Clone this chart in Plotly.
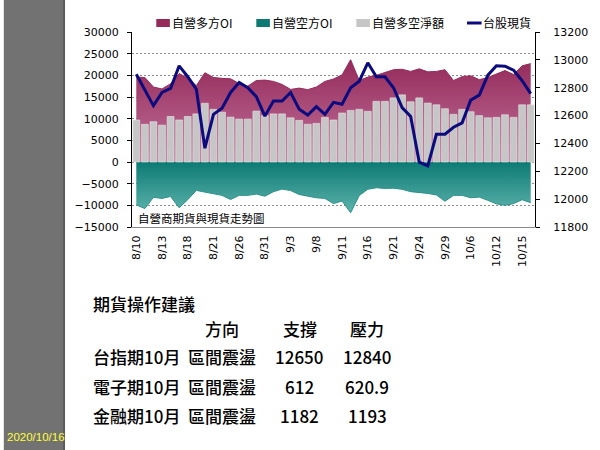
import plotly.graph_objects as go

# ---------------- data ----------------
dates = ["8/10","8/11","8/12","8/13","8/14","8/17","8/18","8/19","8/20","8/21",
         "8/24","8/25","8/26","8/27","8/28","8/31","9/1","9/2","9/3","9/4",
         "9/7","9/8","9/9","9/10","9/11","9/14","9/15","9/16","9/17","9/18",
         "9/21","9/22","9/23","9/24","9/25","9/28","9/29","9/30","10/5","10/6",
         "10/7","10/8","10/12","10/13","10/14","10/15","10/16"]

long_oi = [19600, 19500, 17300, 16850, 18050, 20400, 19400, 17600, 20600, 19500,
           19300, 19200, 18100, 17500, 18800, 18900, 18600, 17900, 16750, 17050,
           16700, 17300, 18600, 19150, 20100, 23600, 18800, 19600, 20000, 20700,
           21300, 21400, 20900, 21500, 20800, 20900, 21300, 18800, 19700, 19900,
           19000, 19500, 20300, 21100, 20200, 22200, 22700]

short_oi = [-9900, -10750, -8150, -8400, -7950, -10550, -8700, -6550, -6950, -7300,
            -7700, -8650, -7700, -7700, -7400, -7900, -6850, -6250, -6600, -7500,
            -7900, -8250, -8400, -9600, -9000, -11700, -7750, -6300, -5950, -6100,
            -6050, -6300, -6850, -7000, -7250, -7600, -9050, -7700, -7700, -8250,
            -8100, -8850, -9650, -10000, -9600, -8700, -9400]

net_oi = [9700, 8700, 9300, 8500, 10500, 9700, 10500, 11100, 13550, 12150,
          11500, 10350, 9900, 9900, 11750, 10700, 11100, 11100, 10200, 9600,
          8700, 8900, 10300, 9700, 11300, 11900, 12150, 11700, 14000, 14000,
          14800, 15500, 13900, 14800, 13600, 13200, 12300, 11000, 12150, 11600,
          10700, 10200, 10300, 10900, 10300, 13200, 13200]

taiex = [12897, 12783, 12671, 12766, 12795, 12957, 12879, 12790, 12366, 12609,
         12652, 12766, 12838, 12800, 12736, 12596, 12704, 12704, 12766, 12645,
         12604, 12664, 12609, 12695, 12681, 12800, 12847, 12979, 12879, 12879,
         12800, 12657, 12593, 12266, 12238, 12466, 12466, 12516, 12548, 12711,
         12747, 12890, 12957, 12955, 12926, 12850, 12758]

tick_labels = dates[::3]

series_names = ["自營多方OI", "自營空方OI", "自營多空淨額", "台股現貨"]
chart_note = "自營商期貨與現貨走勢圖"
table_title = "期貨操作建議"
table_header = ["方向", "支撐", "壓力"]
table_rows = ["台指期10月", "電子期10月", "金融期10月"]
table_dir = ["區間震盪", "區間震盪", "區間震盪"]
table_support = ["12650", "612", "1182"]
table_resist = ["12840", "620.9", "1193"]
date_stamp = "2020/10/16"

# ---------------- styling ----------------
MAROON_D, MAROON_L = "#942a5a", "#c2739c"
TEAL_D, TEAL_L = "#0c7a73", "#5cb3ac"
BAR_C = "#c6c6c6"
LINE_C = "#0b0b7e"
TICK_FONT = dict(family="DejaVu Sans", size=11, color="black")
CJK = "Noto Sans CJK TC"

L, R, T, B = 132, 547, 32, 227
def px(x):
    return (x - L) / (R - L)
def py(y):
    return (B - y) / (B - T)

fig = go.Figure()

fig.add_trace(go.Scatter(
    x=dates, y=long_oi, name=series_names[0], mode="lines",
    line=dict(color=MAROON_D, width=1), fill="tozeroy",
    fillgradient=dict(type="vertical", colorscale=[[0, MAROON_L], [1, MAROON_D]],
                      start=0, stop=max(long_oi)),
    xaxis="x", yaxis="y", showlegend=False))

fig.add_trace(go.Scatter(
    x=dates, y=short_oi, name=series_names[1], mode="lines",
    line=dict(color="#2a918a", width=1), fill="tozeroy",
    fillgradient=dict(type="vertical", colorscale=[[0, TEAL_L], [1, TEAL_D]],
                      start=min(short_oi), stop=0),
    xaxis="x", yaxis="y", showlegend=False))

fig.add_trace(go.Bar(
    x=dates, y=net_oi, name=series_names[2],
    marker=dict(color=BAR_C, line=dict(color="#e6e6e6", width=0.6)),
    xaxis="x", yaxis="y2", showlegend=False))

fig.add_trace(go.Scatter(
    x=dates, y=taiex, name=series_names[3], mode="lines",
    line=dict(color=LINE_C, width=3),
    xaxis="x", yaxis="y3", showlegend=False))

fig.update_layout(
    width=600, height=450,
    margin=dict(l=L, r=600 - R, t=T, b=450 - B),
    paper_bgcolor="white", plot_bgcolor="white",
    bargap=0.2,
    xaxis=dict(type="category", range=[-0.5, len(dates) - 0.5],
               tickmode="array", tickvals=tick_labels, ticktext=tick_labels,
               tickangle=-90, tickfont=TICK_FONT, showgrid=False,
               showline=True, linecolor="#8a8a8a", linewidth=1,
               ticks="", ticklabelstandoff=3),
    yaxis=dict(range=[-15000, 30000], dtick=5000, tickformat="d", tickfont=TICK_FONT,
               showgrid=True, gridcolor="#8c8c8c", griddash="2px,2px", gridwidth=1,
               zeroline=False, showline=True, linecolor="black", linewidth=1,
               ticks="outside", ticklen=4, tickcolor="black", ticklabelstandoff=6),
    yaxis2=dict(range=[-15000, 30000], overlaying="y", visible=False),
    yaxis3=dict(range=[11800, 13200], dtick=200, tickformat="d", overlaying="y",
                side="right", tickfont=TICK_FONT, showgrid=False, zeroline=False,
                showline=True, linecolor="black", linewidth=1,
                ticks="outside", ticklen=4, tickcolor="black", ticklabelstandoff=11),
)

shapes = []
annotations = []

# left gray strip
shapes.append(dict(type="rect", xref="paper", yref="paper", layer="below",
                   x0=px(0), x1=px(61), y0=py(0), y1=py(450),
                   fillcolor="#727272", line=dict(width=0)))
shapes.append(dict(type="line", xref="paper", yref="paper",
                   x0=px(62), x1=px(62), y0=py(0), y1=py(450),
                   line=dict(color="#5a5a5a", width=2)))
annotations.append(dict(xref="paper", yref="paper", x=px(65), y=py(437),
                        xanchor="right", yanchor="middle", showarrow=False,
                        text=date_stamp,
                        font=dict(family="Liberation Sans", size=11.5, color="#ffff33")))

# manual legend
leg = [(157, MAROON_D, "rect", 173), (260, TEAL_D, "rect", 276),
       (363, BAR_C, "rect", 379), (477, LINE_C, "line", 493)]
for (sx, col, kind, tx), name in zip(leg, series_names):
    if kind == "rect":
        shapes.append(dict(type="rect", xref="paper", yref="paper",
                           x0=px(sx), x1=px(sx + 14), y0=py(27), y1=py(19),
                           fillcolor=col, line=dict(width=0)))
    else:
        shapes.append(dict(type="line", xref="paper", yref="paper",
                           x0=px(sx), x1=px(sx + 15), y0=py(23), y1=py(23),
                           line=dict(color=col, width=3)))
    annotations.append(dict(xref="paper", yref="paper", x=px(tx - 2), y=py(23),
                            xanchor="left", yanchor="middle", showarrow=False,
                            text=name, font=dict(family=CJK, size=12, color="black")))

# note inside chart
annotations.append(dict(xref="paper", yref="paper", x=px(136), y=py(218),
                        xanchor="left", yanchor="middle", showarrow=False,
                        text=chart_note, font=dict(family=CJK, size=11.5, color="black")))

# table below
TF = dict(family=CJK, size=17, color="black", weight=500)
annotations.append(dict(xref="paper", yref="paper", x=px(90), y=py(303),
                        xanchor="left", yanchor="middle", showarrow=False,
                        text=table_title, font=TF))
for cx, txt in zip([225, 305, 374], table_header):
    annotations.append(dict(xref="paper", yref="paper", x=px(cx), y=py(328),
                            xanchor="center", yanchor="middle", showarrow=False,
                            text=txt, font=TF))
for ry, name, d, s, r in zip([356, 386, 415], table_rows, table_dir,
                             table_support, table_resist):
    annotations.append(dict(xref="paper", yref="paper", x=px(90), y=py(ry),
                            xanchor="left", yanchor="middle", showarrow=False,
                            text=name, font=TF))
    for cx, txt in zip([225, 304, 374], [d, s, r]):
        annotations.append(dict(xref="paper", yref="paper", x=px(cx), y=py(ry),
                                xanchor="center", yanchor="middle", showarrow=False,
                                text=txt, font=TF))

fig.update_layout(shapes=shapes, annotations=annotations)
fig.write_html("out.html", config={"displayModeBar": False},
               post_script="document.body.style.margin='0';")
